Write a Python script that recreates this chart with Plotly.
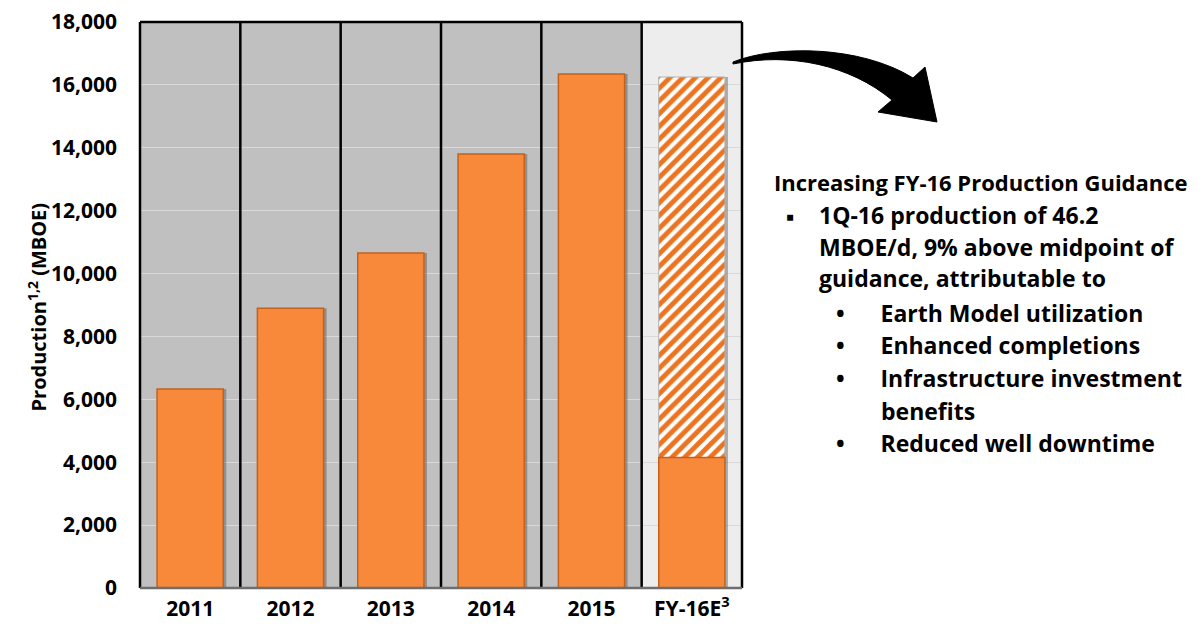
import plotly.graph_objects as go

# Annual production, MBOE
categories = ["2011", "2012", "2013", "2014", "2015", "FY-16E<sup>3</sup>"]
production = [6330, 8900, 10650, 13800, 16350, 4150]
# FY-16 full-year guidance (hatched portion)
guidance_category = ["FY-16E<sup>3</sup>"]
guidance = [16250]

y_ticks = [0, 2000, 4000, 6000, 8000, 10000, 12000, 14000, 16000, 18000]
y_tick_text = ["0", "2,000", "4,000", "6,000", "8,000", "10,000", "12,000", "14,000", "16,000", "18,000"]

GAP = "\u00a0" * 6
# (text, left x, centre y, font size)
notes = [
    ("Increasing FY-16 Production Guidance", 772, 182, 22),
    ("1Q-16 production of 46.2", 817, 215, 23),
    ("MBOE/d, 9% above midpoint of", 817, 247, 23),
    ("guidance, attributable to", 817, 278, 23),
    ("\u2022" + GAP + "Earth Model utilization", 834, 313, 23),
    ("\u2022" + GAP + "Enhanced completions", 834, 345, 23),
    ("\u2022" + GAP + "Infrastructure investment", 834, 378, 23),
    ("benefits", 879, 411, 23),
    ("\u2022" + GAP + "Reduced well downtime", 834, 443, 23),
]
square_bullet = ("\u25aa", 784, 215)

W, H = 1203, 627
L, R, T, B = 140, 742, 22, 588
FONT = "Open Sans"
ORANGE = "#F8883A"
ORANGE_EDGE = "#C2611C"


def px(x):
    return (x - L) / (R - L)


def py(y):
    return (B - y) / (B - T)


fig = go.Figure()

# soft drop shadow behind each bar
fig.add_trace(go.Bar(
    x=categories[:-1] + guidance_category,
    y=production[:-1] + guidance,
    width=0.66, offset=-0.30,
    marker=dict(color="rgba(70,70,70,0.4)", line=dict(width=0)),
    hoverinfo="skip", showlegend=False,
))

# hatched guidance bar
fig.add_trace(go.Bar(
    x=guidance_category, y=guidance, width=0.66,
    marker=dict(
        color="white",
        line=dict(color="#b0b0b0", width=1),
        pattern=dict(shape="/", fgcolor="#EC7420", bgcolor="white", size=9,
                     solidity=0.55, fgopacity=1),
    ),
    showlegend=False,
))

# actual production bars
fig.add_trace(go.Bar(
    x=categories, y=production, width=0.66,
    marker=dict(color=ORANGE, line=dict(color=ORANGE_EDGE, width=1.5)),
    showlegend=False,
))

shapes = []
# category panels
for i in range(len(categories)):
    shapes.append(dict(
        type="rect", xref="x", yref="paper", x0=i - 0.5, x1=i + 0.5, y0=0, y1=1,
        fillcolor="#c0c0c0" if i < len(categories) - 1 else "#ededed",
        line=dict(width=0), layer="below",
    ))
# category separators
for i in range(len(categories) - 1):
    shapes.append(dict(
        type="line", xref="x", yref="paper", x0=i + 0.5, x1=i + 0.5, y0=0, y1=1,
        line=dict(color="black", width=2.5), layer="above",
    ))
# frame
for x0, y0, x1, y1, c in [(0, 0, 0, 1, "black"), (0, 1, 1, 1, "black"), (1, 0, 1, 1, "black"),
                          (0, 0, 1, 0, "#6e6e6e")]:
    shapes.append(dict(type="line", xref="paper", yref="paper", x0=x0, y0=y0, x1=x1, y1=y1,
                       line=dict(color=c, width=2.5), layer="above"))

# curved call-out arrow
arrow_px = [
    ("M", [(733, 62)]),
    ("C", [(775, 45), (860, 45), (913, 78)]),
    ("L", [(925, 67)]),
    ("L", [(937, 122)]),
    ("L", [(878, 112)]),
    ("L", [(892, 100)]),
    ("C", [(850, 65), (790, 52), (733, 64)]),
]
path = ""
for cmd, pts in arrow_px:
    path += cmd + " ".join(f"{px(x):.5f},{py(y):.5f}" for x, y in pts) + " "
path += "Z"
shapes.append(dict(type="path", xref="paper", yref="paper", path=path,
                   fillcolor="black", line=dict(color="black", width=1), layer="above"))

annotations = [
    dict(text="Production<sup>1,2</sup> (MBOE)", xref="paper", yref="paper",
         x=px(20), y=py(307), textangle=-90, showarrow=False,
         font=dict(family=FONT, size=20, color="black", weight="bold")),
    dict(text=square_bullet[0], xref="paper", yref="paper",
         x=px(square_bullet[1]), y=py(square_bullet[2]),
         xanchor="left", yanchor="middle", showarrow=False,
         font=dict(family=FONT, size=24, color="black", weight="bold")),
]
for text, x, y, size in notes:
    annotations.append(dict(text=text, xref="paper", yref="paper", x=px(x), y=py(y),
                            xanchor="left", yanchor="middle", showarrow=False,
                            font=dict(family=FONT, size=size, color="black", weight="bold")))

fig.update_layout(
    width=W, height=H,
    margin=dict(l=L, r=W - R, t=T, b=H - B, autoexpand=False),
    paper_bgcolor="white", plot_bgcolor="#c0c0c0",
    barmode="overlay", bargap=0.34,
    shapes=shapes, annotations=annotations,
    font=dict(family=FONT, color="black"),
)
fig.update_xaxes(
    type="category", categoryorder="array", categoryarray=categories,
    range=[-0.5, len(categories) - 0.5], showgrid=False, showline=False, ticks="",
    tickfont=dict(family=FONT, size=21, color="black", weight="bold"),
    ticklabelstandoff=6,
)
fig.update_yaxes(
    range=[0, 18000], tickvals=y_ticks, ticktext=y_tick_text,
    showgrid=True, gridcolor="#d9d9d9", gridwidth=1, zeroline=False, showline=False,
    tickfont=dict(family=FONT, size=21, color="black", weight="bold"),
    ticklabelstandoff=22,
)

fig.write_html("out.html")
